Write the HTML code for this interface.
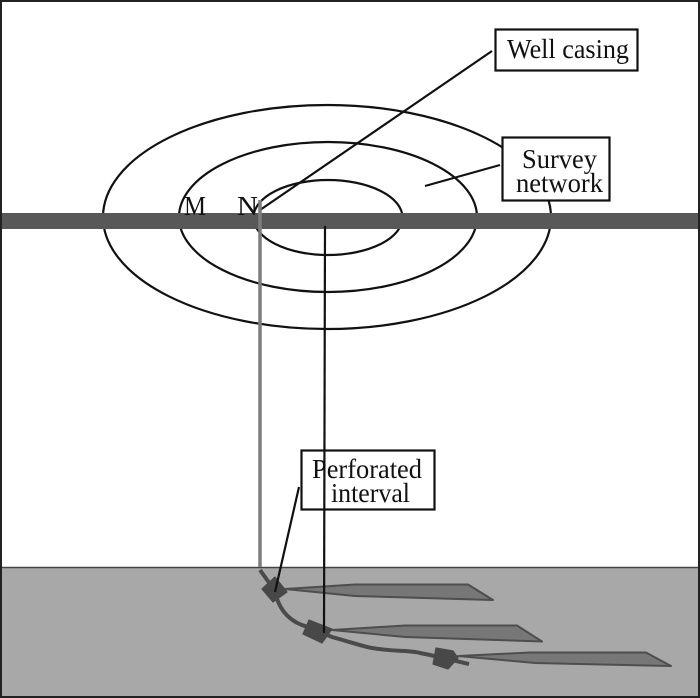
<!DOCTYPE html>
<html>
<head>
<meta charset="utf-8">
<style>
html,body{margin:0;padding:0;background:#fff;}
svg{display:block;}
text{font-family:"Liberation Serif",serif;font-size:27px;fill:#111;}
</style>
</head>
<body>
<svg width="700" height="698" viewBox="0 0 700 698" xmlns="http://www.w3.org/2000/svg">
<rect x="0" y="0" width="700" height="698" fill="#fff"/>
<rect x="1" y="567" width="698" height="130" fill="#a8a8a8"/>
<line x1="0" y1="567.5" x2="700" y2="567.5" stroke="#444" stroke-width="1.5"/>
<g fill="none" stroke="#111" stroke-width="2.2">
<ellipse cx="327" cy="217" rx="224" ry="112"/>
<ellipse cx="328" cy="217" rx="149" ry="75"/>
<ellipse cx="328" cy="217.500" rx="74.500" ry="37.500"/>
</g>
<rect x="0" y="213" width="700" height="16" fill="#585858"/>
<rect x="495.500" y="29.500" width="142" height="41" fill="#fff" stroke="#111" stroke-width="2.200"/>
<rect x="502.500" y="137.500" width="107" height="63" fill="#fff" stroke="#111" stroke-width="2.200"/>
<line x1="492" y1="51" x2="260" y2="210" stroke="#111" stroke-width="2.200"/>
<line x1="500" y1="165" x2="425" y2="186" stroke="#111" stroke-width="2.200"/>
<rect x="301.500" y="450.500" width="133" height="59" fill="#fff" stroke="#111" stroke-width="2.200"/>
<line x1="260" y1="200" x2="260" y2="567" stroke="#7d7d7d" stroke-width="3.500"/>
<g fill="#777" stroke="#4e4e4e" stroke-width="2" stroke-linejoin="round">
<polygon points="285,589 355,584.500 468,584.500 493,600 355,596"/>
<polygon points="332,630 405,625.500 517,625.500 542,641.500 405,637"/>
<polygon points="458,656 530,652.500 646,652.500 671,666 535,663"/>
</g>
<path d="M260 570 L275 591 C279 612 292 623 308 627 L332 637 C350 642 365 647 372 648 C395 652 410 650 420 653 C440 657 452 660 469 664" fill="none" stroke="#4a4a4a" stroke-width="4"/>
<g fill="#484848" stroke="#484848" stroke-width="1.2" stroke-linejoin="round">
<polygon points="262,589 275,577 287,592 273,602"/>
<polygon points="303,634 309,620 332,629 322,643"/>
<polygon points="436,648 453,651 458,658 448,669 433,664"/>
</g>
<line x1="325" y1="226" x2="324" y2="633" stroke="#111" stroke-width="2.200"/>
<line x1="299" y1="487" x2="275" y2="592" stroke="#111" stroke-width="2.200"/>
<text x="507" y="58" textLength="122" lengthAdjust="spacingAndGlyphs">Well casing</text>
<text x="522" y="168" textLength="75" lengthAdjust="spacingAndGlyphs">Survey</text>
<text x="516" y="192" textLength="87" lengthAdjust="spacingAndGlyphs">network</text>
<text x="312" y="478" textLength="110" lengthAdjust="spacingAndGlyphs">Perforated</text>
<text x="331" y="502" textLength="79" lengthAdjust="spacingAndGlyphs">interval</text>
<text x="184" y="215" textLength="22" lengthAdjust="spacingAndGlyphs">M</text>
<text x="237" y="215" textLength="21" lengthAdjust="spacingAndGlyphs">N</text>
<rect x="1" y="1" width="698" height="696" fill="none" stroke="#222" stroke-width="2"/>
</svg>
</body>
</html>
